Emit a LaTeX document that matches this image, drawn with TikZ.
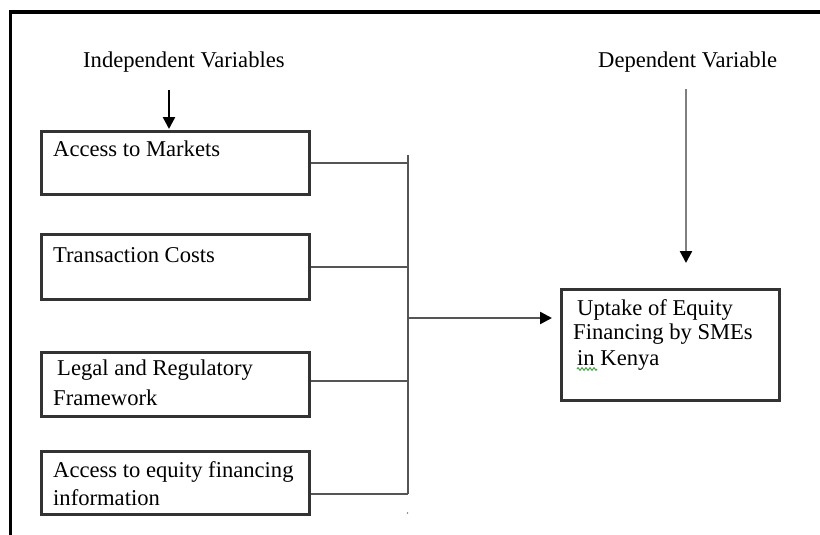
\documentclass[tikz,border=0pt]{standalone}
\usepackage{fontspec}
\setmainfont{Liberation Serif}
\usetikzlibrary{arrows.meta,decorations.pathmorphing}
\definecolor{boxline}{HTML}{333333}
\definecolor{conn}{HTML}{555555}
\definecolor{lightconn}{HTML}{808080}
\definecolor{spell}{HTML}{3A9A3A}
\tikzset{
  box/.style={draw=boxline, line width=2.5pt, rectangle, inner sep=0pt, anchor=north west},
  lbl/.style={anchor=base west, inner sep=0pt, font=\fontsize{22.6}{26}\selectfont},
  conline/.style={draw=conn, line width=2.5pt},
  arr/.style={draw=conn, line width=2.5pt, -{Triangle[width=12pt,length=12pt,color=black]}},
  frame/.style={line width=3.5pt, draw=black}
}
\begin{document}
\begin{tikzpicture}[x=1pt,y=-1pt]
\useasboundingbox (0,0) rectangle (820,535);
% outer frame (left and top only)
\draw[frame] (10.5,535) -- (10.5,12) -- (820,12);

% headings
\node[lbl] (ivt) at (83,67) {Independent Variables};
\node[lbl] (dvt) at (598,67) {Dependent Variable};

% independent variable boxes
\node[box, minimum width=268pt, minimum height=63pt] (b1) at (40,130) {};
\node[box, minimum width=268pt, minimum height=65pt] (b2) at (40,233) {};
\node[box, minimum width=268pt, minimum height=64pt] (b3) at (40,351) {};
\node[box, minimum width=268pt, minimum height=63pt] (b4) at (40,450) {};
% dependent variable box
\node[box, minimum width=218pt, minimum height=111pt] (out) at (560,288) {};

% box texts
\node[lbl] (t1) at (53,157) {Access to Markets};
\node[lbl] (t2) at (53,262) {Transaction Costs};
\node[lbl] (t3a) at (57,375) {Legal and Regulatory};
\node[lbl] (t3b) at (53,405) {Framework};
\node[lbl] (t4a) at (53,477) {Access to equity financing};
\node[lbl] (t4b) at (53,505) {information};
\node[lbl] (o1) at (577,315) {Uptake of Equity};
\node[lbl] (o2) at (573,339) {Financing by SMEs};
\node[lbl] (o3) at (577,365) {in Kenya};
% spell-check squiggle under "in"
\draw[spell, line width=0.9pt, decorate, decoration={zigzag, segment length=4pt, amplitude=1.4pt}] (577,369) -- (597,369);

% coordinates
\coordinate (iv) at (169,90);
\coordinate (dv) at (686,89);
\coordinate (jt) at (408,155);
\coordinate (jm) at (408,318);
\coordinate (jb) at (408,494);

% heading arrows
\draw[arr, draw=black, shorten >=1pt] (iv) -- (iv |- b1.north);
\draw[arr, draw=lightconn, shorten >=25pt] (dv) -- (dv |- out.north);

% bus connectors
\draw[conline] (jt) -- (jb);
\draw[conline] (b1.east) -- (b1.east -| jt);
\draw[conline] (b2.east) -- (b2.east -| jt);
\draw[conline] (b3.east |- 0,381) -- (408,381);
\draw[conline] (b4.east |- jb) -- (jb);
\draw[arr, shorten >=8pt] (jm) -- (jm -| out.west);

% stray dot
\fill[lightconn] (407.5,513) circle (0.9pt);
\end{tikzpicture}
\end{document}
